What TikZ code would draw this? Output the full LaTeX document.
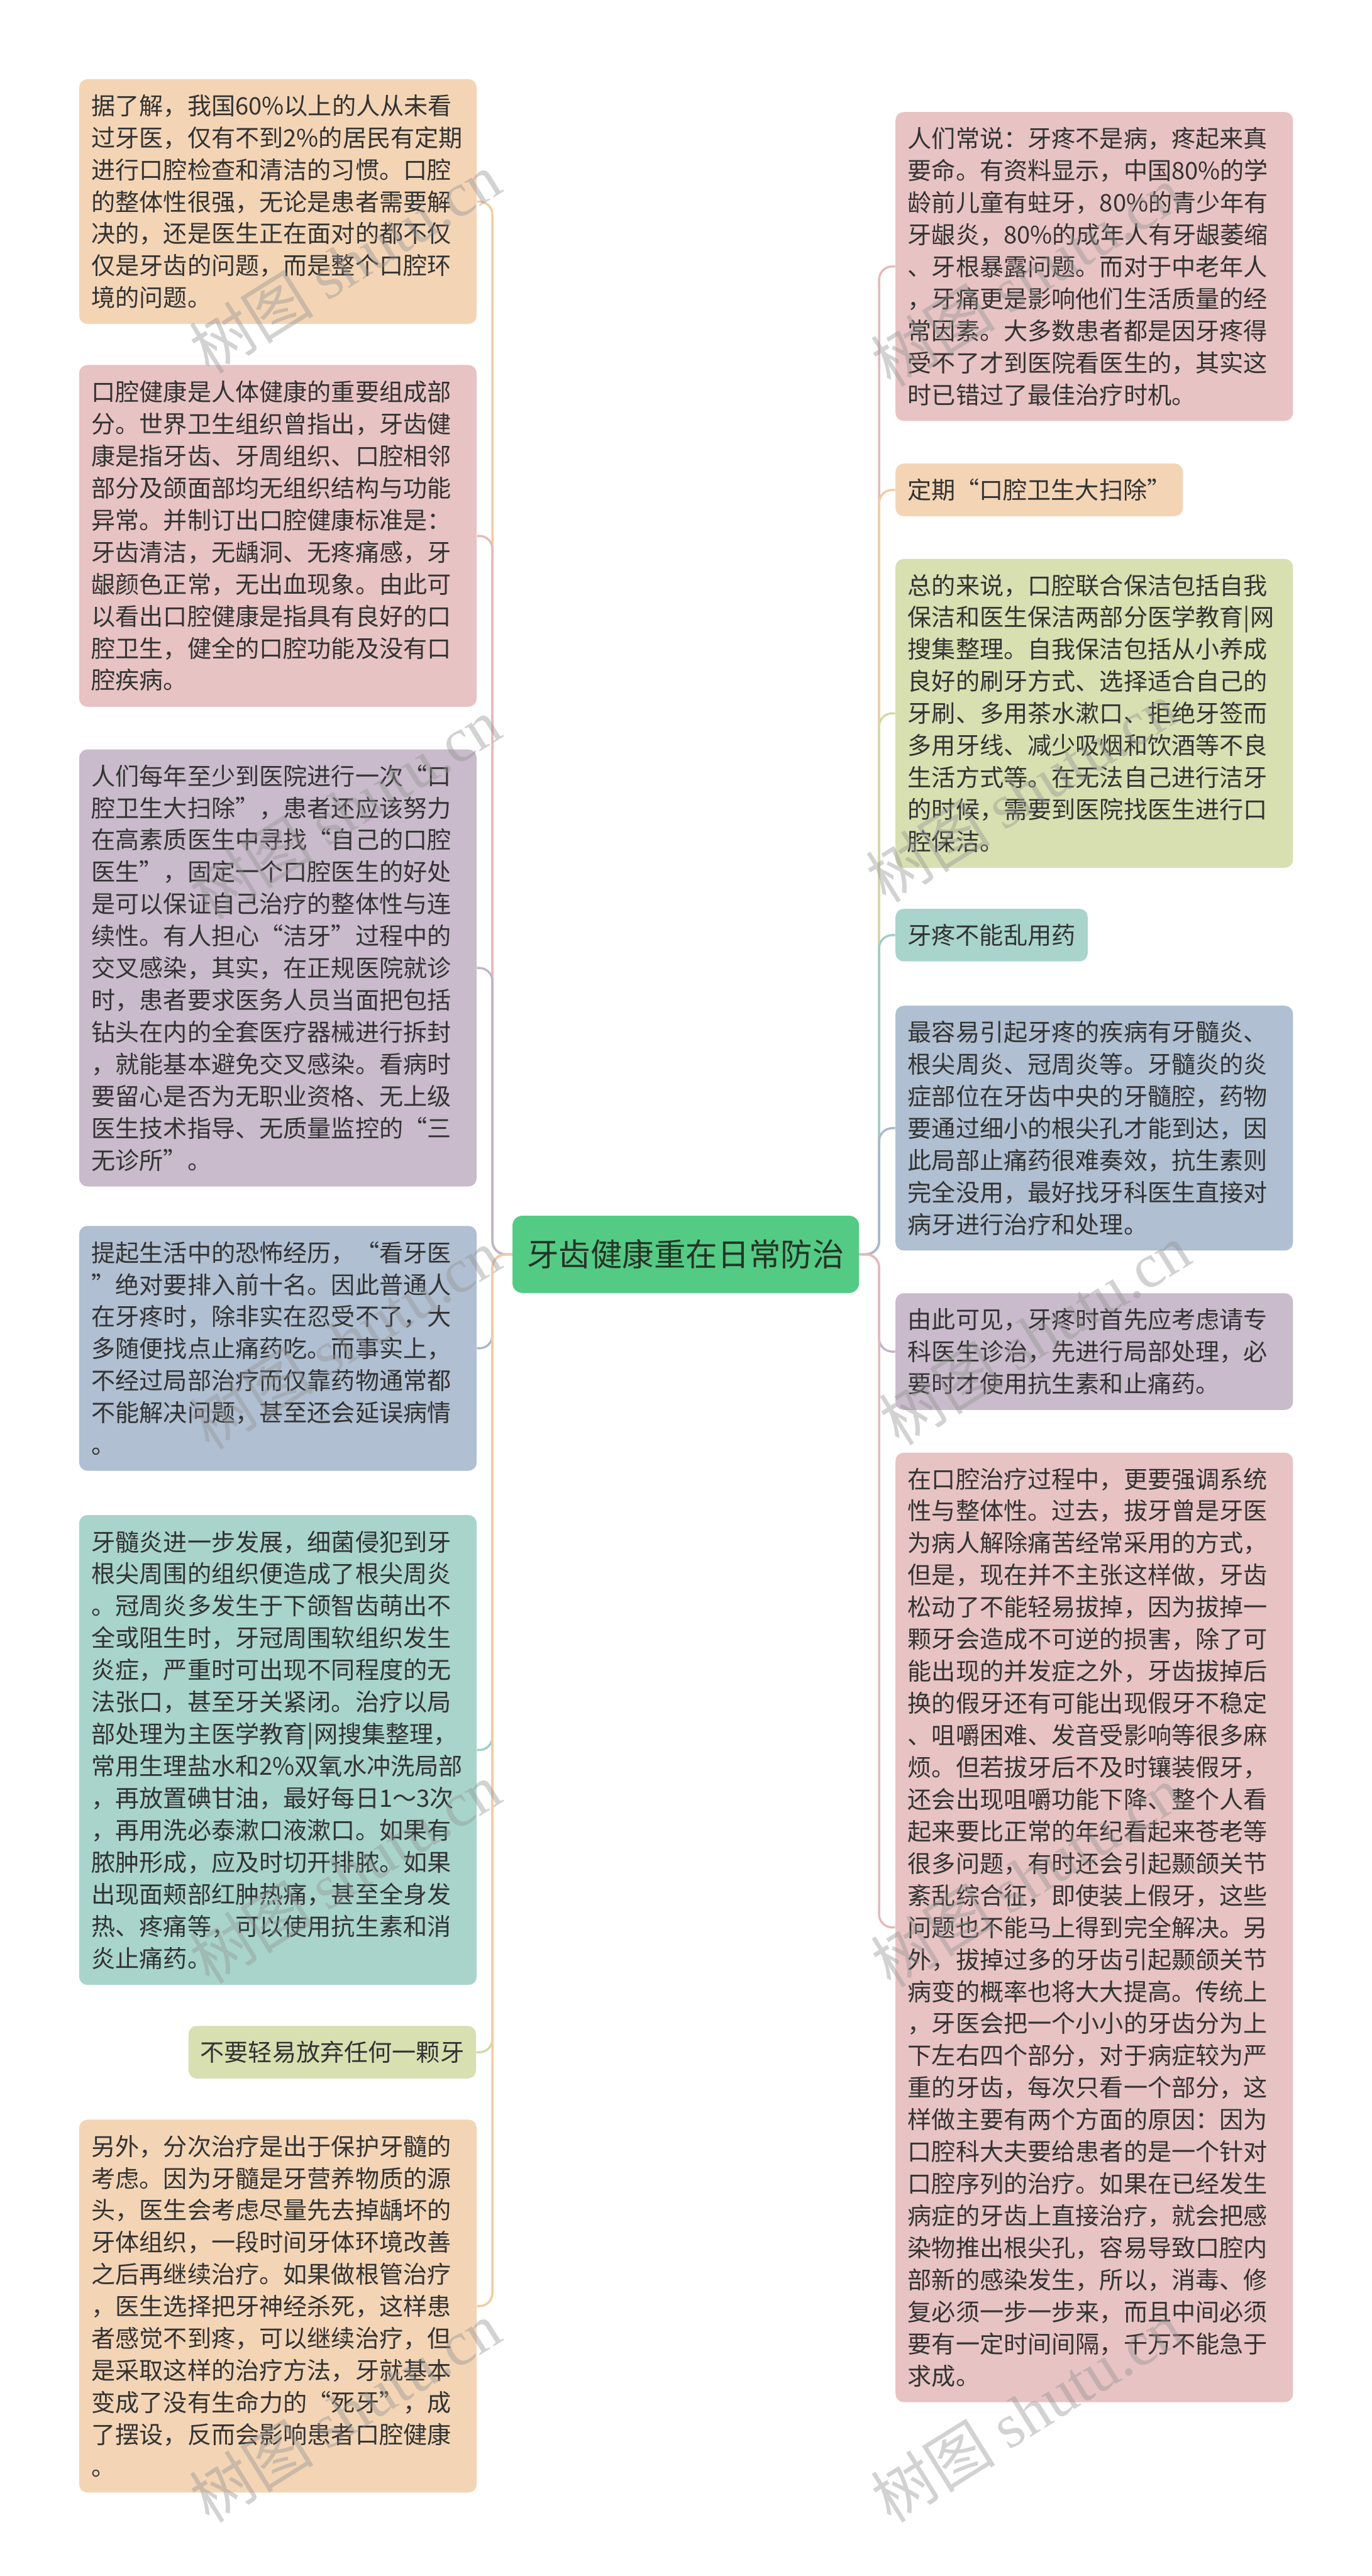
\documentclass[tikz,border=0pt]{standalone}
\usepackage{fontspec}
\newfontfamily\cjk{Noto Sans CJK SC}
\newfontfamily\wmserif{Liberation Serif}
\newcommand\oq{\makebox[1em][r]{“}}
\newcommand\cq{\makebox[1em][l]{”}}
\definecolor{forange}{HTML}{F3D5B6}
\definecolor{fpink}{HTML}{E8C3C3}
\definecolor{fpurple}{HTML}{C9BBCB}
\definecolor{fblue}{HTML}{B0BFD1}
\definecolor{fteal}{HTML}{A8D4CB}
\definecolor{fgy}{HTML}{D8DFB1}
\definecolor{lorange}{HTML}{F0CCA2}
\definecolor{lpink}{HTML}{E5B9B9}
\definecolor{lpurple}{HTML}{C2B3C6}
\definecolor{lblue}{HTML}{A8B8CC}
\definecolor{lteal}{HTML}{9ECEC5}
\definecolor{lgy}{HTML}{D1D9A5}
\definecolor{rootfill}{HTML}{53CB84}
\definecolor{txt}{HTML}{333333}
\definecolor{roottxt}{HTML}{263326}
\begin{document}
\begin{tikzpicture}[x=1pt,y=-1pt,
  box/.style={rounded corners=5pt, inner xsep=7.5pt, inner ysep=0pt,
    font=\cjk\fontsize{14.6}{19.5}\selectfont, text=txt, align=left,
    text width=227pt, minimum width=242pt, anchor=north west},
  sbox/.style={rounded corners=5pt, inner xsep=0pt, inner ysep=0pt,
    font=\cjk\fontsize{14.6}{19.5}\selectfont, text=txt, align=center,
    minimum height=32pt},
  rootbox/.style={rounded corners=6pt, fill=rootfill, inner sep=0pt,
    minimum width=211pt, minimum height=47pt,
    font=\cjk\fontsize{19.3}{22}\selectfont, text=roottxt},
  conn/.style={line width=1.3pt, rounded corners=8pt},
  wm/.style={rotate=32, text=black!42, text opacity=0.42, inner sep=0pt},
]
\useasboundingbox (0,0) rectangle (835,1568);
\fill[white] (0,0) rectangle (835,1568);

% root
\node[rootbox] (root) at (417.5,763.5) {牙齿健康重在日常防治};

% left column
\node[box, fill=forange, minimum height=149pt] (L1) at (48,48) {据了解，我国60\%以上的人从未看\\
过牙医，仅有不到2\%的居民有定期\\
进行口腔检查和清洁的习惯。口腔\\
的整体性很强，无论是患者需要解\\
决的，还是医生正在面对的都不仅\\
仅是牙齿的问题，而是整个口腔环\\
境的问题。};

\node[box, fill=fpink, minimum height=208pt] (L2) at (48,222) {口腔健康是人体健康的重要组成部\\
分。世界卫生组织曾指出，牙齿健\\
康是指牙齿、牙周组织、口腔相邻\\
部分及颌面部均无组织结构与功能\\
异常。并制订出口腔健康标准是：\\
牙齿清洁，无龋洞、无疼痛感，牙\\
龈颜色正常，无出血现象。由此可\\
以看出口腔健康是指具有良好的口\\
腔卫生，健全的口腔功能及没有口\\
腔疾病。};

\node[box, fill=fpurple, minimum height=266pt] (L3) at (48,456) {人们每年至少到医院进行一次\oq 口\\
腔卫生大扫除\cq，患者还应该努力\\
在高素质医生中寻找\oq 自己的口腔\\
医生\cq，固定一个口腔医生的好处\\
是可以保证自己治疗的整体性与连\\
续性。有人担心\oq 洁牙\cq 过程中的\\
交叉感染，其实，在正规医院就诊\\
时，患者要求医务人员当面把包括\\
钻头在内的全套医疗器械进行拆封\\
，就能基本避免交叉感染。看病时\\
要留心是否为无职业资格、无上级\\
医生技术指导、无质量监控的\oq 三\\
无诊所\cq。};

\node[box, fill=fblue, minimum height=149pt] (L4) at (48,746) {提起生活中的恐怖经历，\oq 看牙医\\
\cq 绝对要排入前十名。因此普通人\\
在牙疼时，除非实在忍受不了，大\\
多随便找点止痛药吃。而事实上，\\
不经过局部治疗而仅靠药物通常都\\
不能解决问题，甚至还会延误病情\\
。};

\node[box, fill=fteal, minimum height=286pt] (L5) at (48,922) {牙髓炎进一步发展，细菌侵犯到牙\\
根尖周围的组织便造成了根尖周炎\\
。冠周炎多发生于下颌智齿萌出不\\
全或阻生时，牙冠周围软组织发生\\
炎症，严重时可出现不同程度的无\\
法张口，甚至牙关紧闭。治疗以局\\
部处理为主医学教育|网搜集整理，\\
常用生理盐水和2\%双氧水冲洗局部\\
，再放置碘甘油，最好每日1～3次\\
，再用洗必泰漱口液漱口。如果有\\
脓肿形成，应及时切开排脓。如果\\
出现面颊部红肿热痛，甚至全身发\\
热、疼痛等，可以使用抗生素和消\\
炎止痛药。};

\node[sbox, fill=fgy, minimum width=175pt, anchor=north east] (L6) at (290,1233) {不要轻易放弃任何一颗牙};

\node[box, fill=forange, minimum height=227pt] (L7) at (48,1290) {另外，分次治疗是出于保护牙髓的\\
考虑。因为牙髓是牙营养物质的源\\
头，医生会考虑尽量先去掉龋坏的\\
牙体组织，一段时间牙体环境改善\\
之后再继续治疗。如果做根管治疗\\
，医生选择把牙神经杀死，这样患\\
者感觉不到疼，可以继续治疗，但\\
是采取这样的治疗方法，牙就基本\\
变成了没有生命力的\oq 死牙\cq，成\\
了摆设，反而会影响患者口腔健康\\
。};

% right column
\node[box, fill=fpink, minimum height=188pt] (R1) at (545,68) {人们常说：牙疼不是病，疼起来真\\
要命。有资料显示，中国80\%的学\\
龄前儿童有蛀牙，80\%的青少年有\\
牙龈炎，80\%的成年人有牙龈萎缩\\
、牙根暴露问题。而对于中老年人\\
，牙痛更是影响他们生活质量的经\\
常因素。大多数患者都是因牙疼得\\
受不了才到医院看医生的，其实这\\
时已错过了最佳治疗时机。};

\node[sbox, fill=forange, minimum width=175pt, anchor=north west] (R2) at (545,282) {定期\oq 口腔卫生大扫除\cq};

\node[box, fill=fgy, minimum height=188pt] (R3) at (545,340) {总的来说，口腔联合保洁包括自我\\
保洁和医生保洁两部分医学教育|网\\
搜集整理。自我保洁包括从小养成\\
良好的刷牙方式、选择适合自己的\\
牙刷、多用茶水漱口、拒绝牙签而\\
多用牙线、减少吸烟和饮酒等不良\\
生活方式等。在无法自己进行洁牙\\
的时候，需要到医院找医生进行口\\
腔保洁。};

\node[sbox, fill=fteal, minimum width=117pt, anchor=north west] (R4) at (545,553) {牙疼不能乱用药};

\node[box, fill=fblue, minimum height=149pt] (R5) at (545,612) {最容易引起牙疼的疾病有牙髓炎、\\
根尖周炎、冠周炎等。牙髓炎的炎\\
症部位在牙齿中央的牙髓腔，药物\\
要通过细小的根尖孔才能到达，因\\
此局部止痛药很难奏效，抗生素则\\
完全没用，最好找牙科医生直接对\\
病牙进行治疗和处理。};

\node[box, fill=fpurple, minimum height=71pt] (R6) at (545,787) {由此可见，牙疼时首先应考虑请专\\
科医生诊治，先进行局部处理，必\\
要时才使用抗生素和止痛药。};

\node[box, fill=fpink, minimum height=578pt] (R7) at (545,884) {在口腔治疗过程中，更要强调系统\\
性与整体性。过去，拔牙曾是牙医\\
为病人解除痛苦经常采用的方式，\\
但是，现在并不主张这样做，牙齿\\
松动了不能轻易拔掉，因为拔掉一\\
颗牙会造成不可逆的损害，除了可\\
能出现的并发症之外，牙齿拔掉后\\
换的假牙还有可能出现假牙不稳定\\
、咀嚼困难、发音受影响等很多麻\\
烦。但若拔牙后不及时镶装假牙，\\
还会出现咀嚼功能下降、整个人看\\
起来要比正常的年纪看起来苍老等\\
很多问题，有时还会引起颞颌关节\\
紊乱综合征，即使装上假牙，这些\\
问题也不能马上得到完全解决。另\\
外，拔掉过多的牙齿引起颞颌关节\\
病变的概率也将大大提高。传统上\\
，牙医会把一个小小的牙齿分为上\\
下左右四个部分，对于病症较为严\\
重的牙齿，每次只看一个部分，这\\
样做主要有两个方面的原因：因为\\
口腔科大夫要给患者的是一个针对\\
口腔序列的治疗。如果在已经发生\\
病症的牙齿上直接治疗，就会把感\\
染物推出根尖孔，容易导致口腔内\\
部新的感染发生，所以，消毒、修\\
复必须一步一步来，而且中间必须\\
要有一定时间间隔，千万不能急于\\
求成。};

% connectors
\draw[conn, draw=lorange] (root.west) -- ++(-12,0) |- (L1.east);
\draw[conn, draw=lpink]   (root.west) -- ++(-12,0) |- (L2.east);
\draw[conn, draw=lpurple] (root.west) -- ++(-12,0) |- (L3.east);
\draw[conn, draw=lblue]   (root.west) -- ++(-12,0) |- (L4.east);
\draw[conn, draw=lteal]   (root.west) -- ++(-12,0) |- (L5.east);
\draw[conn, draw=lgy]     (root.west) -- ++(-12,0) |- (L6.east);
\draw[conn, draw=lorange] (root.west) -- ++(-12,0) |- (L7.east);
\draw[conn, draw=lpink]   (root.east) -- ++(12,0) |- (R1.west);
\draw[conn, draw=lorange] (root.east) -- ++(12,0) |- (R2.west);
\draw[conn, draw=lgy]     (root.east) -- ++(12,0) |- (R3.west);
\draw[conn, draw=lteal]   (root.east) -- ++(12,0) |- (R4.west);
\draw[conn, draw=lblue]   (root.east) -- ++(12,0) |- (R5.west);
\draw[conn, draw=lpurple] (root.east) -- ++(12,0) |- (R6.west);
\draw[conn, draw=lpink]   (root.east) -- ++(12,0) |- (R7.west);

% watermarks
\foreach \wx/\wy [count=\i] in {210/160, 625/168, 210/492, 622/482, 210/815, 630/812, 210/1140, 625/1142, 210/1468, 625/1468}{
  \node[wm] (wm\i) at (\wx,\wy) {\cjk\fontsize{38}{38}\selectfont 树图\ \wmserif shutu.cn};
}
\end{tikzpicture}
\end{document}
